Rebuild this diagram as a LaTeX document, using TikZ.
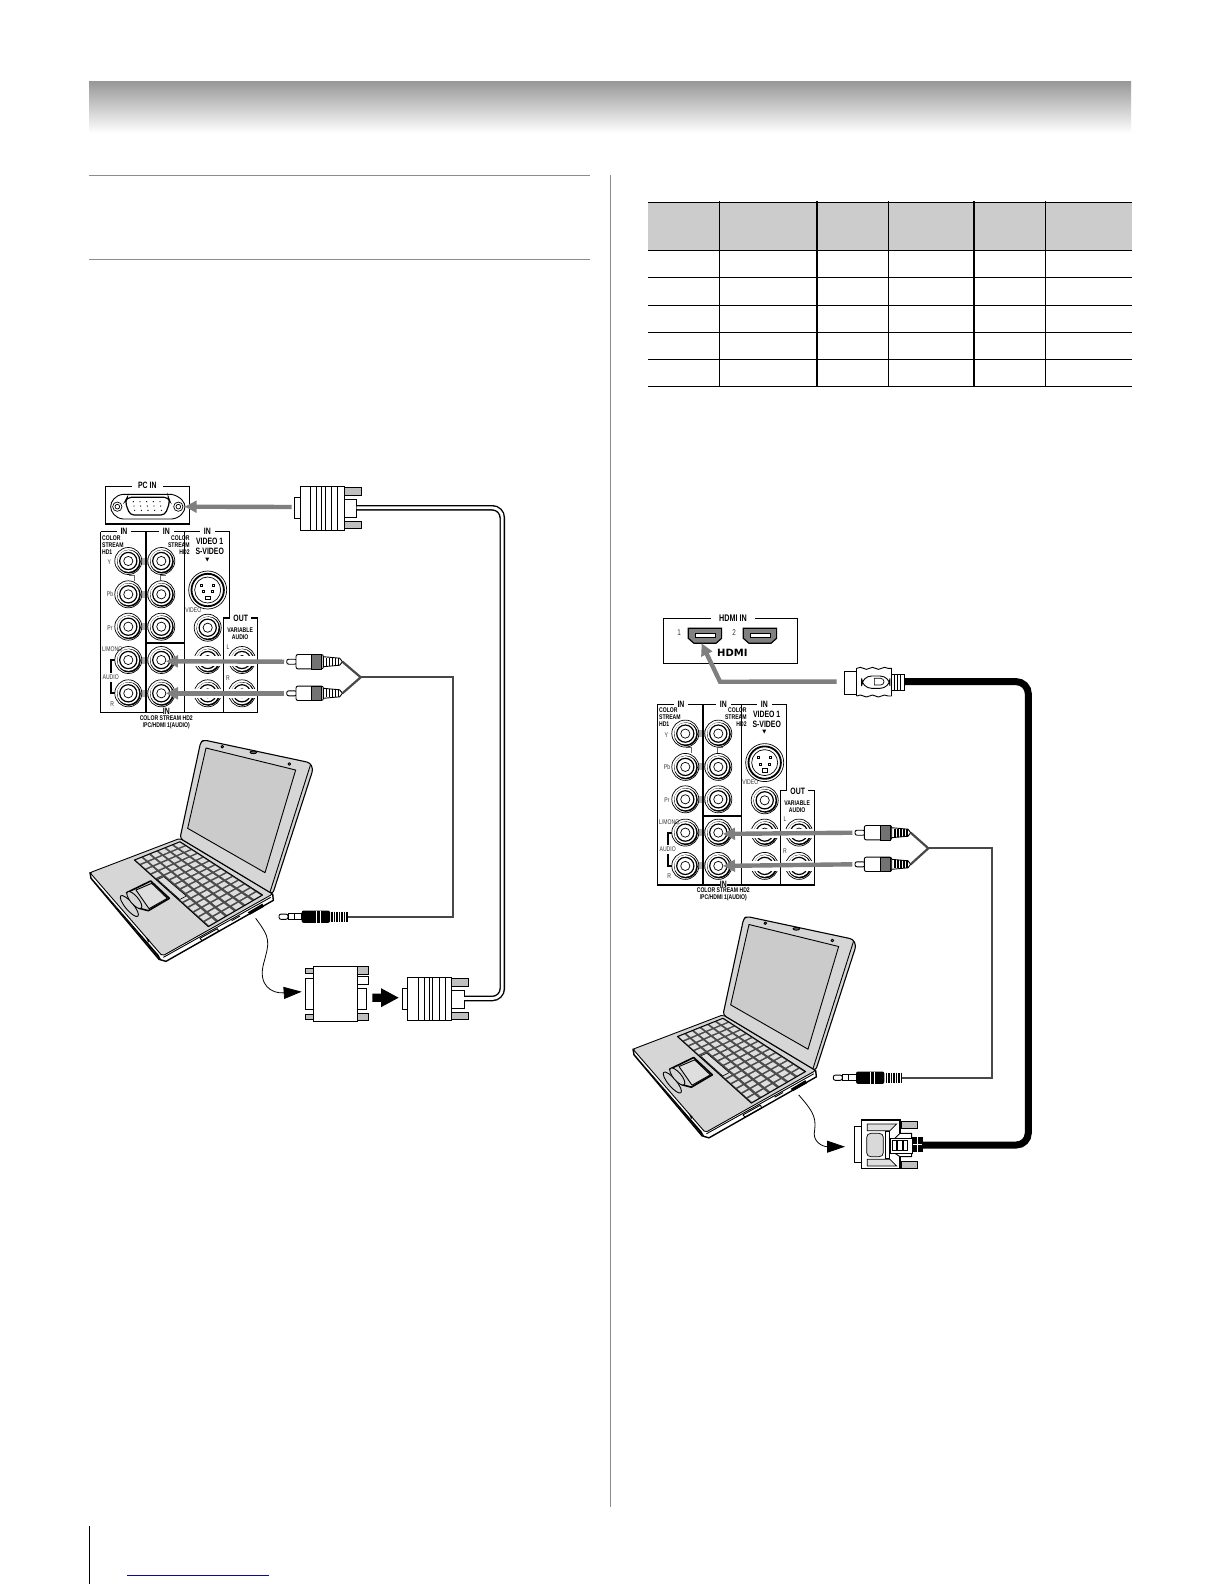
\documentclass[tikz,border=0pt]{standalone}
\usepackage{fontspec}
\usepackage{xcolor}
\usepackage{tikz}
\usetikzlibrary{arrows.meta, calc, decorations.pathmorphing}
\newfontfamily\panelfont[FakeStretch=0.75]{Liberation Sans}
\newfontfamily\symfont{DejaVu Sans}
\definecolor{lapgray}{HTML}{D6D6D6}
\definecolor{keygray}{HTML}{DEDEDE}
\definecolor{arrowgray}{HTML}{7F7F7F}
\definecolor{wiregray}{HTML}{484848}
\definecolor{rulegray}{HTML}{8C8C8C}
\definecolor{hdrgray}{HTML}{CCCCCC}
\definecolor{linkblue}{HTML}{0A0A96}

% keyboard corners of the laptop
\newcommand{\kx}[2]{((1-#1)*(1-#2)*163+#1*(1-#2)*300+#1*#2*548+(1-#1)*#2*385)}
\newcommand{\ky}[2]{((1-#1)*(1-#2)*420+#1*(1-#2)*365+#1*#2*525+(1-#1)*#2*620)}
% round jack of the panel
\newcommand{\avjack}[2]{
  \draw[jackline, fill=white] (#1,#2) circle (13.5);
  \fill ({#1+.6},{#2+.6}) circle (11.9);
  \fill[white] (#1,#2) circle (10.9);
  \draw[line width=.6pt] (#1,#2) circle (8.6);
  \draw[jackline] (#1,#2) circle (4.6);
}

\tikzset{
  pbold/.style={font=\panelfont\bfseries\fontsize{3.4}{3.5}\selectfont, inner sep=0pt, align=center},
  pbig/.style={font=\panelfont\bfseries\fontsize{4.6}{5}\selectfont, inner sep=0pt, align=center},
  plite/.style={font=\panelfont\fontsize{3.4}{3.5}\selectfont, inner sep=0pt, color=black!80},
  panelline/.style={line width=.7pt},
  jackline/.style={line width=.35pt},
  plugline/.style={line width=.45pt, fill=white},
  pinfill/.style={line width=.35pt, fill=black!25},
  lapline/.style={line width=.45pt, line join=round},
  keyline/.style={line width=.3pt, fill=keygray, line join=round},
  garrow/.style={draw=arrowgray, line width=2.2pt, -{Triangle[length=6pt,width=5.8pt]}},
  barrow/.style={line width=.4pt, -{Triangle[length=9pt,width=6pt]}},
  blockarrow/.style={line width=4.2pt, -{Triangle[length=9pt,width=8.8pt]}},
  vgacable/.style={line width=.7pt, double=white, double distance=1.4pt, rounded corners=5pt},
  hdmicable/.style={line width=3.5pt, rounded corners=6pt},
  audiowire/.style={draw=wiregray, line width=1.1pt},
  % laptop, in units of a third of a pixel
  laptop/.pic={
    \begin{scope}[x=.16667pt, y=-.16667pt]
      \filldraw[lapline, fill=white, line width=.7pt] (30,458) -- (33,475) -- (237,718) -- (258,724) -- (580,541) -- (578,522) -- cycle;
      \fill (33,472) -- (237,715) -- (245,722) -- (236,705) -- cycle;
      \filldraw[lapline, fill=lapgray, rounded corners=1pt] (30,458) -- (300,355) -- (578,522) -- (247,708) -- cycle;
      \draw[lapline] (250,712) -- (572,532);
      % ports on the side
      \draw[lapline] (360,655) -- (412,626) -- (416,634) -- (366,662) -- cycle;
      \draw[lapline] (455,602) -- (480,588);
      \fill (503,577) -- (547,551) -- (552,560) -- (510,584) -- cycle;
      \fill (197,650) -- (208,660) -- (205,668) -- cycle;
      % keyboard
      \filldraw[lapline, fill=black!70] (163,420) -- (300,365) -- (548,525) -- (385,620) -- cycle;
      \foreach \i in {0,...,5} {
        \foreach \j in {0,...,13} {
          \pgfmathsetmacro{\ua}{(\i+.14)/6}
          \pgfmathsetmacro{\ub}{(\i+.86)/6}
          \pgfmathsetmacro{\va}{(\j+.14)/14}
          \pgfmathsetmacro{\vb}{(\j+.86)/14}
          \fill[keygray] ({\kx{\ua}{\va}},{\ky{\ua}{\va}}) -- ({\kx{\ub}{\va}},{\ky{\ub}{\va}}) -- ({\kx{\ub}{\vb}},{\ky{\ub}{\vb}}) -- ({\kx{\ua}{\vb}},{\ky{\ua}{\vb}}) -- cycle;
        }
      }
      \filldraw[keyline] ({\kx{.02}{.3}},{\ky{.02}{.3}}) -- ({\kx{.15}{.3}},{\ky{.15}{.3}}) -- ({\kx{.15}{.6}},{\ky{.15}{.6}}) -- ({\kx{.02}{.6}},{\ky{.02}{.6}}) -- cycle;
      % touch pad
      \filldraw[lapline, fill=lapgray] (148,558) ellipse [x radius=40, y radius=12, rotate=-50];
      \filldraw[lapline, fill=lapgray, line width=.8pt] (140,518) -- (212,483) -- (268,535) -- (205,572) -- (178,565) -- cycle;
      \filldraw[lapline, fill=keygray] (168,510) -- (215,490) -- (262,535) -- (207,566) -- cycle;
      \filldraw[lapline, fill=lapgray] (163,540) ellipse [x radius=32, y radius=12, rotate=-50];
      % lid
      \filldraw[lapline, fill=lapgray, rounded corners=1.5pt, line width=.55pt] (300,355) -- (362,66) -- (372,60) -- (690,128) -- (699,148) -- (578,522) -- cycle;
      \draw[lapline] (691,136) -- (570,516);
      \filldraw[lapline, fill=lapgray!95!black] (378,84) -- (647,150) -- (555,458) -- (323,325) -- cycle;
      \filldraw[lapline, fill=black!40] (427,80) circle (4);
      \filldraw[lapline, fill=black!40] (628,132) circle (4);
      \filldraw[lapline, fill=black!60] (520,97) ellipse [x radius=10, y radius=4];
      \coordinate (-out) at (527,595);
    \end{scope}
  },
  % VGA plug, origin at the left of its body
  vgaplug/.pic={
    \filldraw[plugline] (-5.3,-10.5) rectangle (0,10.5);
    \filldraw[plugline] (44,-9) rectangle (56.7,9);
    \filldraw[pinfill] (44,-20.5) rectangle (61,-13);
    \filldraw[pinfill] (44,13) rectangle (61,20.5);
    \filldraw[plugline] (0,-21.7) rectangle (44,21.7);
    \foreach \ribx in {10.7,16.7,21.7,25,31.7,37.7} {
      \draw[line width=.3pt] (\ribx,-21.7) -- (\ribx,21.7);
    }
    \coordinate (-tip) at (-8.3,-1.3);
    \coordinate (-end) at (56.7,-.5);
  },
  % RCA plug, origin at its tip
  rcaplug/.pic={
    \filldraw[plugline, rounded corners=1pt] (0,-2.5) rectangle (10,2.5);
    \filldraw[plugline, rounded corners=1pt] (9.3,-7.2) rectangle (36.7,7.2);
    \filldraw[jackline, fill=black!55] (25,-7.2) rectangle (35,7.2);
    \filldraw[plugline] (36.7,-5) -- (53,-3.5) -- (55.7,0) -- (53,3.5) -- (36.7,5) -- cycle;
    \foreach \ribx in {40,43,46,49,52} {
      \draw[line width=.6pt] (\ribx,-4) -- (\ribx,4);
    }
    \coordinate (-tip) at (-2.7,0);
    \coordinate (-end) at (55.7,0);
  },
  % audio mini plug, origin at its tip
  audioplug/.pic={
    \filldraw[plugline, rounded corners=1pt] (0,-2.6) rectangle (9,2.6);
    \filldraw[plugline] (9,-3.2) rectangle (22.7,3.2);
    \draw[jackline] (15,-3.2) -- (15,3.2);
    \fill[rounded corners=1pt] (22.7,-6.2) rectangle (51,6.2);
    \draw[white, line width=.5pt] (37.5,-6.2) -- (37.5,6.2) (41,-6.2) -- (41,6.2);
    \foreach \ribx in {53,55.5,58,60.5,63,65.5,68} {
      \draw[line width=.8pt] (\ribx,-5) -- (\ribx,5);
    }
    \coordinate (-end) at (68.7,0);
  },
  % gender changer in front of the VGA plug
  adapter/.pic={
    \filldraw[plugline] (-8.3,-15.2) rectangle (0,15.8);
    \filldraw[pinfill] (-8,-25) rectangle (0,-20);
    \filldraw[pinfill] (-8,20.8) rectangle (0,25.5);
    \filldraw[plugline] (44,-4.8) rectangle (53.3,15.5);
    \filldraw[plugline] (44,-17) rectangle (55,-9);
    \filldraw[pinfill] (44,-27) rectangle (55,-19);
    \filldraw[pinfill] (44,19.7) rectangle (55,26.5);
    \filldraw[plugline] (0,-27.5) rectangle (44,27.5);
    \coordinate (-in) at (-11.6,-1.8);
    \coordinate (-out) at (59,4.2);
  },
  % DVI plug, in units of a third of a pixel
  dviplug/.pic={
    \begin{scope}[x=.16667pt, y=-.16667pt]
      \filldraw[plugline] (43,80) rectangle (65,187);
      \filldraw[pinfill] (185,65) rectangle (232,85);
      \filldraw[pinfill] (185,185) rectangle (232,205);
      \filldraw[plugline, line width=.6pt] (65,60) -- (180,60) -- (180,205) -- (65,205) -- cycle;
      \filldraw[jackline, fill=black!12] (82,72) -- (170,72) -- (150,92) -- (82,92) -- cycle;
      \filldraw[jackline, fill=black!12] (82,178) -- (150,178) -- (170,198) -- (82,198) -- cycle;
      \filldraw[jackline, fill=black!15, rounded corners=2pt] (80,100) rectangle (130,170);
      \filldraw[plugline] (135,95) rectangle (148,175);
      \filldraw[plugline] (150,130) -- (180,100) -- (215,100) -- (215,170) -- (180,170) -- (150,150) -- cycle;
      \filldraw[plugline] (150,115) rectangle (218,160);
      \foreach \ribx in {157,173,189} {
        \filldraw[plugline] (\ribx,122) rectangle +(13,30);
      }
      \filldraw[line width=.35pt, fill=black] (218,112) rectangle (247,155);
      \draw[white, line width=.5pt] (218,132) -- (247,132) (232,112) -- (232,155);
      \coordinate (-end) at (247,135);
    \end{scope}
  },
  % HDMI plug, in units of a third of a pixel
  hdmiplug/.pic={
    \begin{scope}[x=.16667pt, y=-.16667pt]
      \filldraw[plugline] (612,215) rectangle (650,282);
      \filldraw[plugline] (755,222) rectangle (793,270);
      \foreach \ribx in {764,773,782} {
        \draw[line width=.45pt] (\ribx,222) -- (\ribx,270);
      }
      \fill[white] (648,205) rectangle (757,290);
      \draw[plugline, decorate, decoration={snake, amplitude=.5pt, segment length=6pt}] (650,205) -- (755,205);
      \draw[plugline, decorate, decoration={snake, amplitude=.5pt, segment length=6pt}] (650,288) -- (755,288);
      \draw[plugline] (650,205) -- (650,288) (755,205) -- (755,288);
      \draw[plugline, rounded corners=5pt] (665,228) rectangle (750,265);
      \draw[jackline] (703,235) -- (722,235) arc (-90:90:10) -- (703,255) -- cycle;
      \coordinate (-tip) at (590,245);
      \coordinate (-end) at (795,245);
    \end{scope}
  },
  % HDMI socket, in units of a third of a pixel
  hdmiport/.pic={
    \begin{scope}[x=.16667pt, y=-.16667pt]
      \filldraw[plugline, fill=black!50, line width=.6pt] (0,0) -- (100,0) -- (100,30) -- (83,45) -- (17,45) -- (0,30) -- cycle;
      \filldraw[plugline] (20,15) rectangle (80,27);
      \coordinate (-in) at (40,45);
    \end{scope}
  },
  % colour stream panel, origin at its top left corner
  avpanel/.pic={
    \foreach \rowy in {29.3,62.6,95,128.3,161.6} {
      \fill[black!30] (38,\rowy-3.5) rectangle (50,\rowy+3.5);
    }
    \draw[panelline] (0,0) -- (128.6,0) -- (128.6,86.3);
    \draw[panelline] (0,0) -- (0,180.6) -- (157,180.6) -- (157,86.3) -- (123,86.3) -- (123,180.6);
    \draw[panelline] (45.3,0) -- (45.3,180.6);
    \draw[panelline] (83.6,0) -- (83.6,180.6);
    \draw[panelline, line width=1pt] (45.3,111.6) -- (83.6,111.6);
    \draw[panelline, line width=1pt] (15,128.3) -- (10.6,128.3) -- (10.6,141);
    \draw[panelline, line width=1pt] (10.6,150) -- (10.6,161.6) -- (15,161.6);
    \draw[jackline, black!60] (28.3,43.3) -- (33.3,43.3) -- (33.3,49);
    \draw[jackline, black!60] (59.3,49) -- (59.3,43.3) -- (65,43.3);
    \foreach \rowy in {29.3,62.6,95,128.3,161.6} {
      \avjack{27.6}{\rowy}
      \avjack{60.6}{\rowy}
    }
    \avjack{107}{96}
    \avjack{107}{128.3}
    \avjack{107}{161.6}
    \avjack{141.3}{128.3}
    \avjack{141.3}{161.6}
    % the jacks that the arrows run across
    \fill[white] (90,124.6) rectangle (156,134);
    \fill[white] (90,157) rectangle (156,166.2);
    \draw[panelline] (123,120) -- (123,170);
    % S-VIDEO socket
    \draw[jackline, fill=white] (107,58.3) circle (19);
    \draw[line width=.9pt] (107,58.3) circle (16.2);
    \draw[jackline] (107,58.3) circle (13);
    \foreach \pinx/\piny in {101/53.3, 112.6/53.3, 102.4/60, 111.6/60} {
      \draw[jackline] (\pinx-1,\piny-1) rectangle (\pinx+1,\piny+1);
    }
    \draw[jackline] (104.5,64.5) rectangle (109.5,68);
    \node[pbig, fill=white, inner xsep=2pt] (-in1) at (23.3,0) {IN};
    \node[pbig, fill=white, inner xsep=2pt] (-in2) at (65.6,0) {IN};
    \node[pbig, fill=white, inner xsep=2pt] (-in3) at (106.6,0) {IN};
    \node[pbold, anchor=west, align=left] (-hd1) at (1,13) {COLOR\\STREAM\\HD1};
    \node[pbold, anchor=east, align=right] (-hd2) at (89.3,13) {COLOR\\STREAM\\HD2};
    \node[pbig] (-vid1) at (109,15) {VIDEO 1\\S-VIDEO};
    \node[inner sep=0pt, font=\symfont\fontsize{2.6}{3}\selectfont] (-down) at (106.6,28.3) {▼};
    \node[plite] (-ly) at (8.6,30.6) {Y};
    \node[plite] (-lpb) at (9.3,62.6) {Pb};
    \node[plite] (-lpr) at (9.3,96) {Pr};
    \node[plite, anchor=west] (-lmono) at (1,117.6) {L/MONO};
    \node[plite] (-laudio) at (10,145) {AUDIO};
    \node[plite] (-lr) at (11.6,172.3) {R};
    \node[plite] (-lvideo) at (92.6,78.3) {VIDEO};
    \node[pbig, fill=white, inner xsep=1.5pt] (-out) at (140,87) {OUT};
    \node[pbold] (-vara) at (139.4,102) {VARIABLE\\AUDIO};
    \node[plite] (-ll) at (127.3,115) {L};
    \node[plite] (-rr) at (127.3,146.6) {R};
    \node[pbig, fill=white, inner ysep=.3pt] (-in4) at (65.6,180) {IN};
    \node[pbold] (-foot) at (65.6,190.3) {COLOR STREAM HD2\\/PC/HDMI 1(AUDIO)};
    \coordinate (-jt) at (65.3,129.6);
    \coordinate (-jb) at (65.3,161.6);
  }
}

\begin{document}
\begin{tikzpicture}[x=.5pt, y=-.5pt]
\useasboundingbox (0,0) rectangle (1224,1584);
\fill[white] (0,0) rectangle (1224,1584);

% Title band and page rules
\shade[top color=black!40, bottom color=white] (89,82) rectangle (1131,133);
\draw[rulegray, line width=.4pt] (89,175) -- (590,175);
\draw[rulegray, line width=.4pt] (89,259.5) -- (590,259.5);
\draw[rulegray, line width=.4pt] (610,175) -- (610,1507);
\draw[line width=.6pt] (89.3,1526) -- (89.3,1584);
\draw[linkblue, line width=.6pt] (127,1575.3) -- (269,1575.3);

% Table
\fill[hdrgray] (648,202.3) rectangle (1132,250.3);
\foreach \rowy in {202.3,250.3,277.3,305.3,332.3,359.3,386.3} {
  \draw[line width=.5pt] (648,\rowy) -- (1132,\rowy);
}
\foreach \colx in {719.3,888,1045.7} {
  \draw[line width=.5pt] (\colx,201) -- (\colx,386.3);
}
\foreach \colx in {817,973.7} {
  \draw[line width=1pt] (\colx,201) -- (\colx,386.3);
}

% PC IN panel
\draw[panelline] (105.3,486.3) rectangle (189.3,524);
\node[pbig, fill=white, inner xsep=3pt] (pctitle) at (147.3,485.5) {PC IN};
\begin{scope}[shift={(90,460)}, x=.16667pt, y=-.16667pt]
  \draw[plugline] (100,103) -- (245,103) .. controls (275,110) and (285,130) .. (285,140) .. controls (285,155) and (270,175) .. (245,177) -- (100,177) .. controls (75,175) and (62,155) .. (62,140) .. controls (62,125) and (75,105) .. (100,103) -- cycle;
  \draw[plugline, rounded corners=2pt, line width=.6pt] (112,112) -- (235,112) -- (240,125) -- (225,165) -- (120,165) -- (105,125) -- cycle;
  \foreach \pinx in {130,150,170,190,210} {
    \fill (\pinx,125) circle (2);
    \fill (\pinx+2,138) circle (2);
    \fill (\pinx+4,151) circle (2);
  }
  \foreach \pinx in {82,265} {
    \draw[jackline] (\pinx,140) circle (14);
    \draw[jackline] (\pinx,140) circle (7);
  }
  \coordinate (pcport) at (284,140);
\end{scope}

% Left hook up
\pic (panelA) at (100.7,531.7) {avpanel};
\pic (vgaA) at (300,508.3) {vgaplug};
\pic (vgaB) at (407.3,999) {vgaplug};
\pic (adaptA) at (313.3,993.5) {adapter};
\pic (rcaAT) at (286.7,661.7) {rcaplug};
\pic (rcaAB) at (286.7,693.3) {rcaplug};
\pic (miniA) at (279,916.7) {audioplug};
\pic (lapA) at (80,720) {laptop};
\coordinate (vgaturn) at (502.3,750);
\coordinate (ysplitA) at (360.7,677.3);
\coordinate (audioturnA) at (453,800);
\draw[vgacable] (vgaA-end) -| (vgaturn) |- (vgaB-end);
\draw[garrow] (vgaA-tip) -- (pcport);
\draw[garrow] (rcaAT-tip) -- (panelA-jt);
\draw[garrow] (rcaAB-tip) -- (panelA-jb);
\draw[audiowire] (rcaAT-end) -- (ysplitA) -- (rcaAB-end);
\draw[audiowire] (ysplitA) -| (audioturnA) |- (miniA-end);
\draw[barrow] (lapA-out) .. controls +(15,20) and +(6,-22) .. ++(8,45) .. controls +(-6,22) and +(-30,2) .. (adaptA-in);
\draw[blockarrow] (adaptA-out) -- (vgaB-tip);

% HDMI IN panel
\draw[panelline] (663.3,618.3) rectangle (797.3,663.3);
\node[pbig, fill=white, inner xsep=4pt, font=\panelfont\bfseries\fontsize{4.8}{5}\selectfont] (hdmititle) at (733,618.3) {HDMI IN};
\node[plite, font=\panelfont\fontsize{4.2}{5}\selectfont] (port1) at (679,632.3) {1};
\node[plite, font=\panelfont\fontsize{4.2}{5}\selectfont] (port2) at (734,632.3) {2};
\pic (hdmiA) at (688.3,628.3) {hdmiport};
\pic (hdmiB) at (743.3,628.3) {hdmiport};
\node[inner sep=0pt, font=\symfont\bfseries\fontsize{5}{5}\selectfont] (hdmilogo) at (732.3,653.3) {HDMI};

% Right hook up
\pic (panelB) at (657.7,704.3) {avpanel};
\pic (hdmiP) at (640,600) {hdmiplug};
\pic (dviA) at (840,1100) {dviplug};
\pic (rcaBT) at (855,832.7) {rcaplug};
\pic (rcaBB) at (855,864.3) {rcaplug};
\pic (miniB) at (833.3,1077.7) {audioplug};
\pic (lapB) at (623,896.5) {laptop};
\coordinate (hdmibend) at (720,681.7);
\coordinate (hdmiturn) at (1028.3,900);
\coordinate (ysplitB) at (928.3,848.3);
\coordinate (audioturnB) at (991.7,950);
\draw[hdmicable] (hdmiP-end) -| (hdmiturn) |- (dviA-end);
\draw[garrow] (hdmiP-tip) -- (hdmibend) -- (hdmiA-in);
\draw[garrow] (rcaBT-tip) -- (panelB-jt);
\draw[garrow] (rcaBB-tip) -- (panelB-jb);
\draw[audiowire] (rcaBT-end) -- (ysplitB) -- (rcaBB-end);
\draw[audiowire] (ysplitB) -| (audioturnB) |- (miniB-end);
\draw[barrow] (lapB-out) .. controls +(12,14) and +(2,-14) .. ++(16,35) .. controls +(-3,12) and +(-22,0) .. (845,1146.7);

\end{tikzpicture}
\end{document}
